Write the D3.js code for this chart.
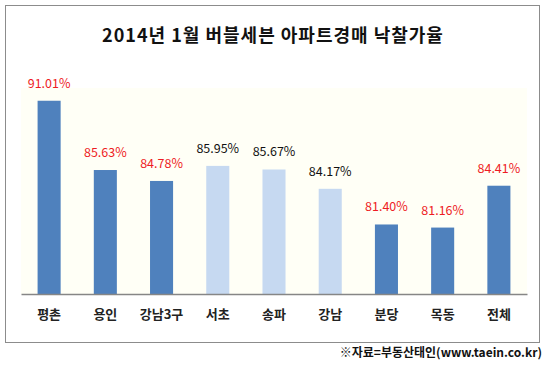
<!DOCTYPE html>
<html><head><meta charset="utf-8">
<script src="https://cdn.jsdelivr.net/npm/d3@7"></script>
<style>
body{margin:0;background:#fff;}
svg{display:block;}
text{font-family:"Noto Sans CJK KR","Noto Sans",sans-serif;}
</style></head>
<body>
<script>
const categories = ["평촌","용인","강남3구","서초","송파","강남","분당","목동","전체"];
const values = [91.01,85.63,84.78,85.95,85.67,84.17,81.40,81.16,84.41];
const highlighted = [true,true,true,false,false,false,true,true,true];
const yDomain = [76, 92];
const title = "2014년 1월 버블세븐 아파트경매 낙찰가율";
const source = "※자료=부동산태인(www.taein.co.kr)";

const W = 548, H = 365;
const svg = d3.select("body").append("svg").attr("width", W).attr("height", H);

// outer frame
svg.append("rect").attr("x",5.5).attr("y",5.5).attr("width",534).attr("height",337)
  .attr("fill","#fff").attr("stroke","#8c8c8c").attr("stroke-width",1);

const plot = {left:21, right:527, top:88, bottom:294};

svg.append("rect").attr("x",plot.left).attr("y",plot.top)
  .attr("width",plot.right-plot.left).attr("height",plot.bottom-plot.top)
  .attr("fill","#fffff6");

const x = d3.scaleBand().domain(categories).range([plot.left, plot.right]).paddingInner(0.59).paddingOuter(0.295);
const y = d3.scaleLinear().domain(yDomain).range([plot.bottom, plot.top]);

const data = categories.map((c,i)=>({c, v:values[i], h:highlighted[i]}));

svg.selectAll("rect.bar").data(data).enter().append("rect").attr("class","bar")
  .attr("x",d=>x(d.c)).attr("width",x.bandwidth())
  .attr("y",d=>y(d.v)).attr("height",d=>plot.bottom-y(d.v))
  .attr("fill",d=>d.h?"#4f81bd":"#c6d9f1");

svg.selectAll("text.val").data(data).enter().append("text").attr("class","val")
  .attr("x",d=>x(d.c)+x.bandwidth()/2).attr("y",d=>y(d.v)-13)
  .attr("text-anchor","middle").attr("font-size",12.5)
  .attr("fill",d=>d.h?"#ee1c24":"#111")
  .text(d=>d.v.toFixed(2)+"%");

// x axis
const xAxis = d3.axisBottom(x).tickSize(0).tickPadding(16);
const gx = svg.append("g").attr("transform",`translate(0,${plot.bottom})`).call(xAxis);
gx.select(".domain").attr("stroke","#868686").attr("stroke-width",1.5);
gx.selectAll("text").attr("font-size",13).attr("font-weight","bold").attr("fill","#222")
  .attr("font-family",'"Noto Sans CJK KR",sans-serif');

svg.append("text").attr("x",273).attr("y",42).attr("text-anchor","middle")
  .attr("font-size",18).attr("font-weight","bold").attr("fill","#111")
  .attr("letter-spacing","1").text(title);

svg.append("text").attr("x",542).attr("y",357).attr("text-anchor","end")
  .attr("font-size",12).attr("font-weight","bold").attr("fill","#111")
  .text(source);
</script>
</body></html>
